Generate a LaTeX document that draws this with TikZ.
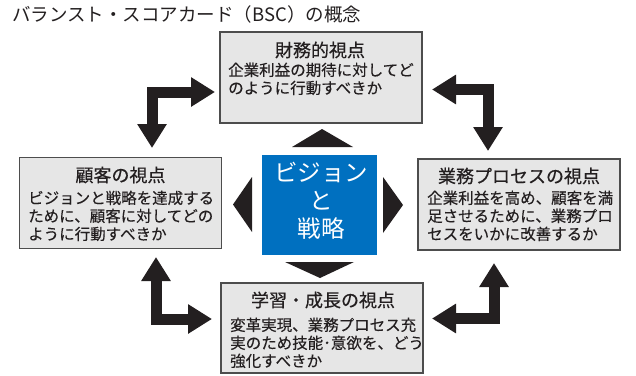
\documentclass[tikz,border=0pt]{standalone}
\usepackage{fontspec}
\setmainfont{Noto Sans CJK JP}
\newfontfamily\cjkbold[FakeBold=0.5]{Noto Sans CJK JP}
\newfontfamily\cjkbody[FakeBold=0.25]{Noto Sans CJK JP}
\usetikzlibrary{arrows.meta}
\definecolor{ink}{HTML}{231F20}
\definecolor{vblue}{RGB}{0,112,192}
\definecolor{boxfill}{HTML}{E6E6E6}
\definecolor{boxline}{HTML}{4D4D4D}
\begin{document}
\begin{tikzpicture}[x=1pt,y=-1pt,
 persp/.style={draw=boxline,line width=1.3pt,fill=boxfill,minimum width=202pt,minimum height=91pt,inner sep=0},
 ptitle/.style={font=\cjkbold\fontsize{18}{20}\selectfont,text=ink,inner sep=0},
 pbody/.style={font=\cjkbody\fontsize{15.5}{18}\selectfont,text=ink,align=left,anchor=north west,inner sep=0},
 elbow/.style={draw=ink,line width=11pt,line join=miter,{Triangle[width=28pt,length=24pt]}-{Triangle[width=28pt,length=24pt]}},
 tri/.style={fill=ink}]
\useasboundingbox (0,0) rectangle (636,375);
\node[anchor=west,font=\fontsize{18.5}{20}\selectfont,text=ink,inner sep=0] (title) at (12,14) {バランスト・スコアカード（BSC）の概念};
% top
\node[persp] (fin) at (321,77.5) {};
\node[ptitle] (fint) at (320,50) {財務的視点};
\node[pbody] (finb) at (228,62.5) {企業利益の期待に対してど\\のように行動すべきか};
% left
\node[persp] (cus) at (120.5,203) {};
\node[ptitle] (cust) at (120.5,175) {顧客の視点};
\node[pbody] (cusb) at (28,190.5) {ビジョンと戦略を達成する\\ために、顧客に対してどの\\ように行動すべきか};
% right
\node[persp] (pro) at (519,204.5) {};
\node[ptitle] (prot) at (519,176) {業務プロセスの視点};
\node[pbody] (prob) at (427,190.5) {企業利益を高め、顧客を満\\足させるために、業務プロ\\セスをいかに改善するか};
% bottom
\node[persp,minimum height=90pt] (lrn) at (322,328) {};
\node[ptitle] (lrnt) at (323,300) {学習・成長の視点};
\node[pbody] (lrnb) at (230,317.5) {変革実現、業務プロセス充\\実のため技能･意欲を、どう\\強化すべきか};
% center
\node[fill=vblue,minimum width=115pt,minimum height=100pt,inner sep=0] (vis) at (319.5,205) {};
\node[font=\fontsize{23.5}{28}\selectfont,text=white,align=center,inner sep=0] (vist) at (321,201) {ビジョン\\と\\戦略};
% triangles
\fill[tri] (292,147) -- (353,147) -- (322,129) -- cycle;
\fill[tri] (285,262) -- (354,262) -- (320,278) -- cycle;
\fill[tri] (252,177) -- (252,232) -- (233,204.5) -- cycle;
\fill[tri] (383,177) -- (383,233) -- (403,205) -- cycle;
% elbow arrows
\coordinate (tlA) at (215,92); \coordinate (tlB) at (152,148);
\draw[elbow] (tlA) -| (tlB);
\coordinate (trA) at (432,89.5); \coordinate (trB) at (488,151);
\draw[elbow] (trA) -| (trB);
\coordinate (blA) at (156,257); \coordinate (blB) at (212,319);
\draw[elbow] (blA) |- (blB);
\coordinate (brA) at (432,318.5); \coordinate (brB) at (494,263);
\draw[elbow] (brA) -| (brB);
\end{tikzpicture}
\end{document}
